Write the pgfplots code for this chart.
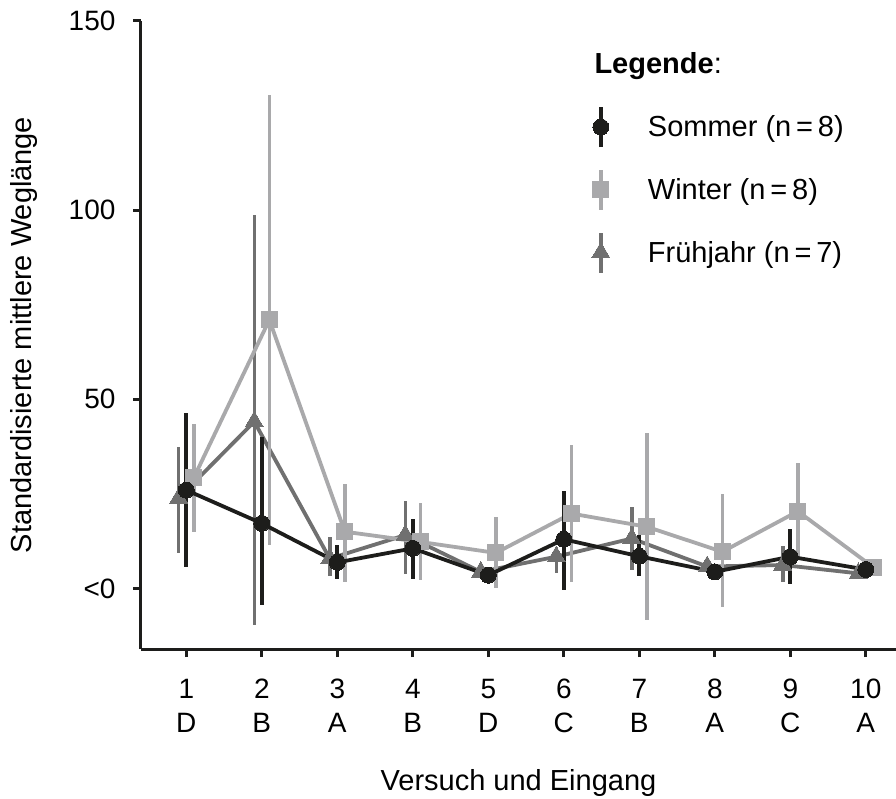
\documentclass[border=0pt]{standalone}
\usepackage{pgfplots}
\pgfplotsset{compat=1.18}
\usepackage{pgfplotstable}
\usepackage{fontspec}
\setmainfont{Liberation Sans}

\definecolor{sommer}{HTML}{1D1D1B}
\definecolor{winter}{HTML}{A9A9AB}
\definecolor{fruehjahr}{HTML}{707070}

% x y error+ error-
\pgfplotstableread{
x    y    ep   em
1.0  26.0 20.3 20.4
2.0  17.2 22.9 21.6
3.0  6.9  4.6  4.3
4.0  10.6 7.7  8.2
5.0  3.5  1.0  1.0
6.0  13.0 12.8 13.3
7.0  8.5  5.6  5.2
8.0  4.4  1.0  1.0
9.0  8.4  7.3  7.3
10.0 5.0  0.5  0.5
}\sommer

\pgfplotstableread{
x    y    ep   em
1.1  29.3 14.3 14.5
2.1  71.0 59.5 59.5
3.1  15.0 12.5 13.3
4.1  12.3 10.2 10.1
5.1  9.4  9.4  9.4
6.1  19.8 18.1 18.1
7.1  16.3 24.7 24.7
8.1  9.7  15.4 14.6
9.1  20.4 12.7 12.9
10.1 5.6  0.5  0.5
}\winter

\pgfplotstableread{
x    y    ep   em
0.9  23.9 13.4 14.6
1.9  44.1 54.7 53.8
2.9  7.9  5.8  4.6
3.9  14.1 9.1  10.3
4.9  4.4  1.0  1.0
5.9  8.4  2.6  4.3
6.9  13.2 8.4  8.4
7.9  5.8  1.0  1.0
8.9  6.2  5.0  4.5
9.9  4.0  0.5  0.5
}\fruehjahr

\begin{document}
\begin{tikzpicture}[font=\fontsize{29}{34}\selectfont]
\begin{axis}[
    scale only axis,
    width=755pt, height=628pt,
    xmin=0.4, xmax=10.4,
    ymin=-16, ymax=150,
    axis x line*=bottom, axis y line*=left,
    axis line style={line width=3pt, color=sommer},
    tick align=outside,
    major tick length=8pt,
    tick style={line width=3pt, color=sommer},
    xtick={1,2,3,4,5,6,7,8,9,10},
    xticklabels={{\strut 1\\D},{\strut 2\\B},{\strut 3\\A},{\strut 4\\B},{\strut 5\\D},
                 {\strut 6\\C},{\strut 7\\B},{\strut 8\\A},{\strut 9\\C},{\strut 10\\A}},
    xticklabel style={align=center, anchor=north, yshift=-14pt, font=\fontsize{28}{34}\selectfont},
    ytick={0,50,100,150},
    yticklabels={{<0},50,100,150},
    yticklabel style={xshift=-14pt, font=\fontsize{28}{34}\selectfont},
    xlabel={Versuch und Eingang},
    ylabel={Standardisierte mittlere Weglänge},
    every axis x label/.style={at={(axis description cs:0.5,-0.226)}, anchor=base},
    every axis y label/.style={at={(axis description cs:-0.155,0.5)}, rotate=90, anchor=center},
    clip=false,
    reverse legend,
    legend style={draw=none, fill=none, inner sep=0pt, outer sep=0pt,
        at={(rel axis cs:0.597,0.866)}, anchor=north west,
        row sep=19pt, font=\fontsize{29}{34}\selectfont,
        /tikz/every odd column/.append style={column sep=36pt}},
    legend cell align=left,
    legend image code/.code={
        \draw[mark repeat=2, mark phase=2, #1] plot coordinates {(0pt,-20pt) (0pt,0pt) (0pt,20pt)};
    },
]
\addplot[color=fruehjahr, line width=3.8pt, mark=triangle*, mark size=10.5pt,
    mark options={solid, line width=0pt},
    error bars/.cd, y dir=both, y explicit, error mark=none,
    error bar style={line width=3.5pt, color=fruehjahr}]
    table[x=x, y=y, y error plus=ep, y error minus=em] {\fruehjahr};
\addlegendentry{Frühjahr (n\,=\,7)}

\addplot[color=winter, line width=3.8pt, mark=square*, mark size=8pt,
    mark options={solid, line width=0pt},
    error bars/.cd, y dir=both, y explicit, error mark=none,
    error bar style={line width=3.5pt, color=winter}]
    table[x=x, y=y, y error plus=ep, y error minus=em] {\winter};
\addlegendentry{Winter (n\,=\,8)}

\addplot[color=sommer, line width=3.8pt, mark=*, mark size=8pt,
    mark options={solid, line width=0pt},
    error bars/.cd, y dir=both, y explicit, error mark=none,
    error bar style={line width=4pt, color=sommer}]
    table[x=x, y=y, y error plus=ep, y error minus=em] {\sommer};
\addlegendentry{Sommer (n\,=\,8)}

\node[anchor=base west] at (rel axis cs:0.596,0.917) {\textbf{Legende}:};
\end{axis}
\pgfresetboundingbox
\path (current axis.south west) ++(-141pt,-149pt) rectangle ++(896pt,798pt);
\end{tikzpicture}
\end{document}
